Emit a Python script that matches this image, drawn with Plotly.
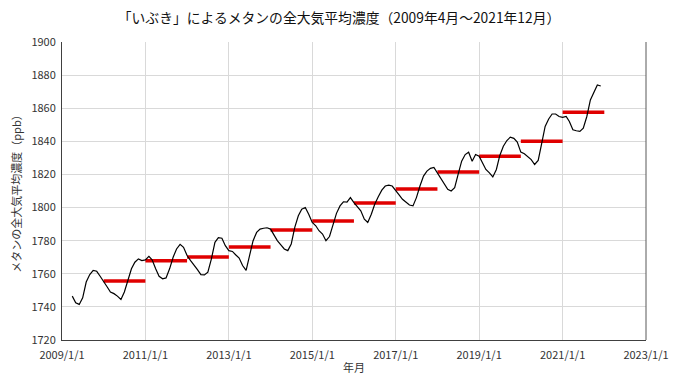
import pandas as pd
import plotly.graph_objects as go

# Monthly global mean methane concentration (ppb), 2009-04 .. 2021-12
monthly_start = "2009-04-01"
monthly_ppb = [
    # 2009 Apr-Dec
    1746.5, 1742.5, 1741.5, 1745.5, 1755.0, 1759.5, 1762.0, 1761.5, 1758.5,
    # 2010
    1755.5, 1752.0, 1749.0, 1748.0, 1746.5, 1744.5, 1749.0, 1756.0, 1763.0, 1767.0, 1769.0, 1768.0,
    # 2011
    1768.4, 1770.5, 1768.5, 1763.0, 1758.5, 1757.0, 1757.5, 1763.0, 1770.0, 1775.0, 1777.8, 1776.0,
    # 2012
    1771.0, 1768.0, 1765.0, 1762.5, 1759.5, 1759.3, 1761.0, 1769.0, 1779.0, 1781.8, 1781.5, 1777.0,
    # 2013
    1774.0, 1773.5, 1771.5, 1769.5, 1765.0, 1762.0, 1771.0, 1780.0, 1785.0, 1787.0, 1787.5, 1787.8,
    # 2014
    1787.0, 1783.0, 1780.0, 1777.5, 1775.0, 1774.0, 1778.0, 1788.0, 1795.0, 1799.0, 1800.0, 1796.0,
    # 2015
    1791.0, 1789.0, 1786.0, 1784.0, 1780.0, 1782.5, 1790.0, 1796.5, 1801.0, 1803.5, 1803.3, 1806.0,
    # 2016
    1803.0, 1800.5, 1798.0, 1793.0, 1791.0, 1796.0, 1802.0, 1806.5, 1810.5, 1813.0, 1813.5, 1813.0,
    # 2017
    1810.5, 1807.5, 1805.0, 1803.0, 1801.5, 1801.0, 1806.0, 1813.0, 1819.0, 1822.0, 1823.7, 1824.3,
    # 2018
    1821.0, 1818.0, 1814.5, 1811.0, 1810.0, 1812.0, 1820.0, 1828.0, 1832.0, 1833.4, 1828.0, 1832.0,
    # 2019
    1831.0, 1827.0, 1823.0, 1821.0, 1818.5, 1823.0, 1831.5, 1837.0, 1840.5, 1842.5, 1841.8, 1839.5,
    # 2020
    1833.5, 1832.5, 1831.0, 1829.0, 1826.0, 1828.5, 1838.5, 1849.0, 1853.5, 1856.5, 1856.5, 1855.0,
    # 2021
    1854.5, 1855.0, 1852.0, 1847.0, 1846.4, 1846.0, 1848.0, 1855.0, 1865.0, 1869.0, 1874.0, 1873.4,
]

# Annual means (ppb)
annual_years = [2010, 2011, 2012, 2013, 2014, 2015, 2016, 2017, 2018, 2019, 2020, 2021]
annual_ppb = [1755.7, 1767.8, 1770.2, 1776.2, 1786.5, 1791.9, 1802.8, 1811.2, 1821.5, 1831.0, 1840.0, 1857.5]

# Axis ticks
x_tick_years = [2009, 2011, 2013, 2015, 2017, 2019, 2021, 2023]
x_tick_labels = ["2009/1/1", "2011/1/1", "2013/1/1", "2015/1/1", "2017/1/1", "2019/1/1", "2021/1/1", "2023/1/1"]
y_ticks = [1720, 1740, 1760, 1780, 1800, 1820, 1840, 1860, 1880, 1900]

title_text = "「いぶき」によるメタンの全大気平均濃度（2009年4月～2021年12月）"
x_title = "年月"
y_title = "メタンの全大気平均濃度（ppb）"

FONT = "Noto Sans CJK JP"

months = pd.date_range(monthly_start, periods=len(monthly_ppb), freq="MS")

bar_x, bar_y = [], []
for yr, v in zip(annual_years, annual_ppb):
    bar_x += [f"{yr}-01-01", f"{yr + 1}-01-01", None]
    bar_y += [v, v, None]

fig = go.Figure()
fig.add_trace(go.Scatter(
    x=bar_x, y=bar_y, mode="lines",
    line=dict(color="#e00000", width=3.5),
    showlegend=False, hoverinfo="skip",
))
fig.add_trace(go.Scatter(
    x=months, y=monthly_ppb, mode="lines",
    line=dict(color="#000000", width=1.2),
    showlegend=False,
))

# page body has an 8px default margin; size/margins compensate for it
fig.update_layout(
    width=672, height=374,
    margin=dict(l=54, r=34, t=34, b=42),
    paper_bgcolor="white", plot_bgcolor="white",
    font=dict(family=FONT, size=11, color="#333333"),
    title=dict(text=title_text, x=0.4926, xanchor="center", y=0.973, yanchor="middle",
               font=dict(family=FONT, size=13.8, color="#111111")),
)
fig.update_xaxes(
    type="date",
    range=["2009-01-01", "2023-01-01"],
    tickvals=[f"{y}-01-01" for y in x_tick_years],
    ticktext=x_tick_labels,
    showgrid=True, gridcolor="#d9d9d9", gridwidth=1,
    showline=True, linecolor="#404040", linewidth=1,
    ticks="outside", ticklen=5, tickcolor="rgba(0,0,0,0)",
    tickfont=dict(size=11, color="#333333"),
    title=dict(text=x_title, font=dict(size=11, color="#333333"), standoff=3),
    zeroline=False, automargin=False,
)
fig.update_yaxes(
    range=[1720, 1900],
    tickvals=y_ticks,
    showgrid=True, gridcolor="#d9d9d9", gridwidth=1,
    showline=True, linecolor="#404040", linewidth=1,
    ticks="outside", ticklen=3, tickcolor="rgba(0,0,0,0)",
    tickfont=dict(size=11, color="#333333"),
    title=dict(text=y_title, font=dict(size=11, color="#333333"), standoff=10),
    zeroline=False, automargin=False,
)
fig.add_shape(type="line", xref="paper", yref="paper", x0=1, x1=1, y0=0, y1=1,
              line=dict(color="#595959", width=1))

fig.write_html("out.html")
